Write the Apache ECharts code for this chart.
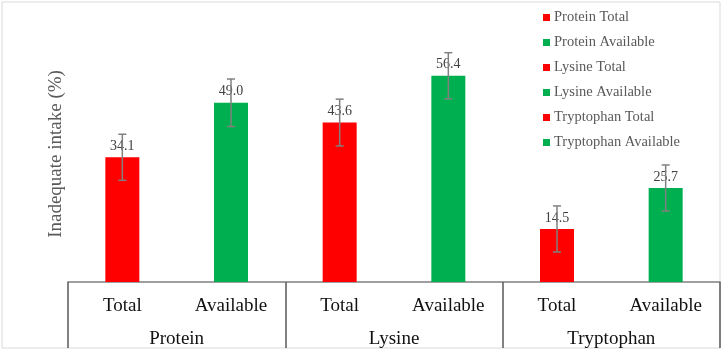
<!DOCTYPE html>
<html>
<head>
<meta charset="utf-8">
<script src="https://cdn.jsdelivr.net/npm/echarts@6/dist/echarts.min.js"></script>
<style>
  html, body { margin: 0; padding: 0; background: #fff; }
  #main { width: 725px; height: 354px; }
</style>
</head>
<body>
<div id="main"></div>
<script>
  // data
  var subLabels = ['Total', 'Available', 'Total', 'Available', 'Total', 'Available'];
  var groupLabels = ['Protein', 'Lysine', 'Tryptophan'];
  var seriesNames = ['Protein Total', 'Protein Available', 'Lysine Total', 'Lysine Available', 'Tryptophan Total', 'Tryptophan Available'];
  var values = [34.1, 49.0, 43.6, 56.4, 14.5, 25.7];
  var errors = [6.3, 6.5, 6.4, 6.3, 6.3, 6.3];
  var barColors = ['#ff0000', '#00b050', '#ff0000', '#00b050', '#ff0000', '#00b050'];

  var serif = 'Liberation Serif';
  var myChart = echarts.init(document.getElementById('main'));

  var series = [];
  seriesNames.forEach(function (name, i) {
    var d = values.map(function (v, j) { return j === i ? v : null; });
    series.push({
      name: name,
      type: 'bar',
      xAxisIndex: 0,
      barWidth: 34,
      barGap: '-100%',
      itemStyle: { color: barColors[i] },
      label: {
        show: true,
        position: 'top',
        distance: 4,
        fontFamily: serif,
        fontSize: 14,
        color: '#404040',
        formatter: function (p) { return p.value.toFixed(1); }
      },
      data: d
    });
  });

  // error bars
  var errData = values.map(function (v, i) { return [i, v - errors[i], v + errors[i]]; });
  series.push({
    type: 'custom',
    name: 'err',
    xAxisIndex: 0,
    z: 10,
    renderItem: function (params, api) {
      var lo = api.coord([api.value(0), api.value(1)]);
      var hi = api.coord([api.value(0), api.value(2)]);
      var cap = 4;
      var style = { stroke: '#808080', lineWidth: 1.5 };
      return {
        type: 'group',
        children: [
          { type: 'line', shape: { x1: lo[0], y1: lo[1], x2: hi[0], y2: hi[1] }, style: style },
          { type: 'line', shape: { x1: hi[0] - cap, y1: hi[1], x2: hi[0] + cap, y2: hi[1] }, style: style },
          { type: 'line', shape: { x1: lo[0] - cap, y1: lo[1], x2: lo[0] + cap, y2: lo[1] }, style: style }
        ]
      };
    },
    data: errData
  });

  var option = {
    animation: false,
    graphic: [{
      type: 'rect',
      shape: { x: 2, y: 2, width: 718, height: 346 },
      style: { fill: 'none', stroke: '#d9d9d9', lineWidth: 1 },
      silent: true
    }],
    legend: {
      data: seriesNames,
      orient: 'vertical',
      left: 543,
      top: 10,
      padding: 0,
      itemWidth: 7,
      itemHeight: 7,
      itemGap: 10,
      icon: 'rect',
      textStyle: { fontFamily: serif, fontSize: 14.5, color: '#595959', padding: [0, 0, 0, -1] }
    },
    grid: { left: 68, right: 5, top: 26, bottom: 72 },
    xAxis: [
      {
        type: 'category',
        position: 'bottom',
        data: subLabels,
        axisLine: { lineStyle: { color: '#808080', width: 1.5 } },
        axisTick: { show: false },
        axisLabel: { interval: 0, margin: 15, fontFamily: serif, fontSize: 19, color: '#111' }
      },
      {
        type: 'category',
        position: 'bottom',
        data: groupLabels,
        axisLine: { show: false },
        axisTick: { show: true, length: 66, lineStyle: { color: '#595959', width: 1.5 } },
        axisLabel: { interval: 0, margin: 48, fontFamily: serif, fontSize: 19, color: '#111' }
      }
    ],
    yAxis: {
      type: 'value',
      min: 0,
      max: 70,
      name: 'Inadequate intake (%)',
      nameLocation: 'middle',
      nameGap: 2,
      nameTextStyle: { fontFamily: serif, fontSize: 19, color: '#595959' },
      axisLine: { show: false },
      axisTick: { show: false },
      axisLabel: { show: false },
      splitLine: { show: false }
    },
    series: series
  };

  myChart.setOption(option);
</script>
</body>
</html>
